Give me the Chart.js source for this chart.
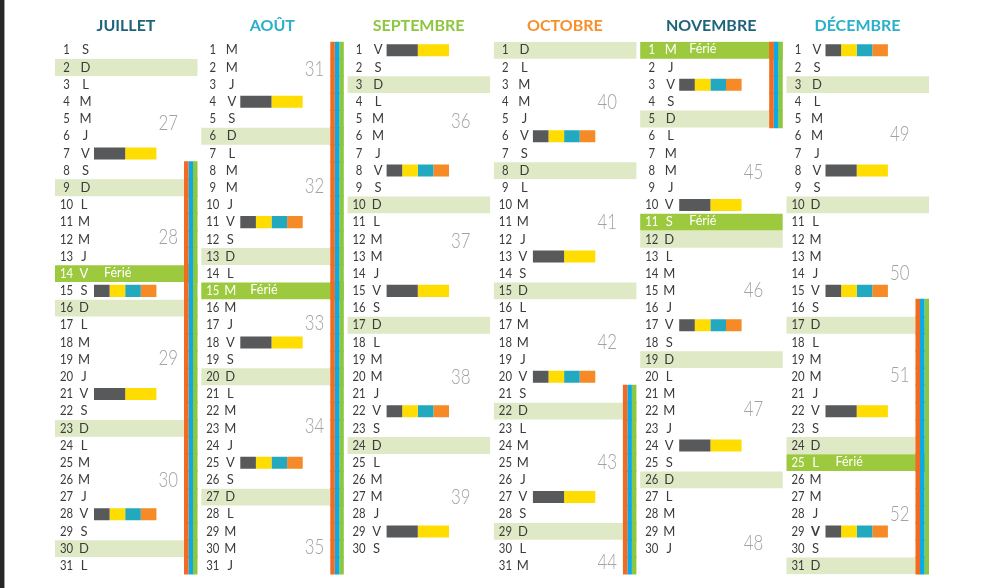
<!DOCTYPE html>
<html lang="fr">
<head>
    <meta charset="UTF-8">
    <title>Calendrier juillet - décembre</title>
    <script src="https://cdn.jsdelivr.net/npm/chart.js"></script>
    <style>
        body {
            margin: 0;
            background: #ffffff;
            font-family: Lato, sans-serif;
        }
        .page {
            position: relative;
            width: 992px;
            height: 588px;
            overflow: hidden;
        }
        .edge {
            position: absolute;
            left: 0;
            top: 0;
            width: 4px;
            height: 100%;
            background: #262626;
            border-right: 1px solid #a0a0a0;
        }
        .chart-container {
            position: absolute;
            left: 0;
            top: 0;
            width: 992px;
            height: 588px;
        }
    </style>
</head>
<body>
<div class="page">
    <div class="edge"></div>
    <div class="chart-container">
        <canvas id="calendar"></canvas>
    </div>
</div>

<script>
    // ---- data read from the calendar ----
    const months = ['JUILLET', 'AOÛT', 'SEPTEMBRE', 'OCTOBRE', 'NOVEMBRE', 'DÉCEMBRE'];
    const days = ['1', '2', '3', '4', '5', '6', '7', '8', '9', '10', '11', '12', '13', '14', '15', '16',
                  '17', '18', '19', '20', '21', '22', '23', '24', '25', '26', '27', '28', '29', '30', '31'];

    // day letters, one string per month
    const dayLetters = [
        'SDLMMJVSDLMMJVSDLMMJVSDLMMJVSDL',
        'MMJVSDLMMJVSDLMMJVSDLMMJVSDLMMJ',
        'VSDLMMJVSDLMMJVSDLMMJVSDLMMJVS',
        'DLMMJVSDLMMJVSDLMMJVSDLMMJVSDLM',
        'MJVSDLMMJVSDLMMJVSDLMMJVSDLMMJ',
        'VSDLMMJVSDLMMJVSDLMMJVSDLMMJVSD'
    ];

    const feries = [[14], [15], [], [], [1, 11], [25]];

    // grey + yellow bars
    const shortBars = [[7, 21], [4, 18], [1, 15, 29], [13, 27], [10, 24], [8, 22]];
    // grey + yellow + teal + orange bars
    const longBars = [[15, 28], [11, 25], [8, 22], [6, 20], [3, 17], [1, 15, 29]];

    // holiday periods [first day, last day]
    const vacances = [[8, 31], [1, 31], null, [21, 31], [1, 5], [16, 31]];

    const weekNumbers = [
        [27, 28, 29, 30],
        [31, 32, 33, 34, 35],
        [36, 37, 38, 39],
        [40, 41, 42, 43, 44],
        [45, 46, 47, 48],
        [49, 50, 51, 52]
    ];
    // day row where each week number sits
    const weekRows = [
        [5.25, 11.9, 18.9, 26],
        [2.1, 8.9, 16.9, 22.9, 29.9],
        [5.1, 12.1, 20, 27],
        [4, 11, 18, 25, 30.8],
        [8.1, 14.95, 21.9, 29.7],
        [5.9, 14, 19.9, 28]
    ];

    const boldDays = [[], [], [], [], [], [29]];

    // ---- styles ----
    const monthColors = ['#1d6478', '#2ab0c8', '#8dc63f', '#f7902a', '#1d6478', '#2ab0c8'];

    const U = 146.3;            // pixels per month column
    const COL_W = 142.5 / U;
    const px = v => v / U;
    const BAR_X = 39, SEG = 15.6;
    const STRIPE_X = 129, STRIPE_W = 4.5;

    // ---- build datasets ----
    const sundayData = [], ferieData = [];
    dayLetters.forEach((s, m) => {
        s.split('').forEach((l, i) => {
            if (l === 'D') sundayData.push({ y: days[i], x: [m, m + COL_W] });
        });
        feries[m].forEach(d => ferieData.push({ y: String(d), x: [m, m + COL_W] }));
    });

    const segGrey = [], segYellow = [], segTeal = [], segOrange = [];
    shortBars.forEach((list, m) => list.forEach(d => {
        segGrey.push({ y: String(d), x: [m + px(BAR_X), m + px(BAR_X + 2 * SEG)] });
        segYellow.push({ y: String(d), x: [m + px(BAR_X + 2 * SEG), m + px(BAR_X + 4 * SEG)] });
    }));
    longBars.forEach((list, m) => list.forEach(d => {
        [segGrey, segYellow, segTeal, segOrange].forEach((arr, k) => {
            arr.push({ y: String(d), x: [m + px(BAR_X + k * SEG), m + px(BAR_X + (k + 1) * SEG)] });
        });
    }));

    const stripeOrange = [], stripeBlue = [], stripeGreen = [];
    vacances.forEach((v, m) => {
        if (!v) return;
        for (let d = v[0]; d <= v[1]; d++) {
            [stripeOrange, stripeBlue, stripeGreen].forEach((arr, k) => {
                arr.push({ y: String(d), x: [m + px(STRIPE_X + k * STRIPE_W), m + px(STRIPE_X + (k + 1) * STRIPE_W)] });
            });
        }
    });

    function drawText(ctx, str, x, y, font, color, align, sx) {
        ctx.save();
        ctx.translate(x, y);
        ctx.scale(sx || 1, 1);
        ctx.font = font;
        ctx.fillStyle = color;
        ctx.textAlign = align;
        ctx.textBaseline = 'middle';
        ctx.fillText(str, 0, 0);
        ctx.restore();
    }

    const calendarText = {
        id: 'calendarText',
        afterDatasetsDraw(chart) {
            const { ctx, chartArea, scales: { x, y } } = chart;
            months.forEach((name, m) => {
                const x0 = x.getPixelForValue(m);
                drawText(ctx, name, x0 + 71, chartArea.top - 16, 'bold 16px Lato', monthColors[m], 'center');

                dayLetters[m].split('').forEach((l, i) => {
                    const d = i + 1;
                    const yy = y.getPixelForValue(i);
                    const ferie = feries[m].includes(d);
                    const color = ferie ? '#ffffff' : '#3b3b3b';
                    drawText(ctx, String(d), x0 + 11.5, yy, '13px Lato', color, 'center', 0.87);
                    const bold = boldDays[m].includes(d) ? 'bold ' : '';
                    drawText(ctx, l, x0 + (d < 10 ? 30.5 : 29), yy, bold + '13px Lato', color, 'center');
                    if (ferie) drawText(ctx, 'Férié', x0 + 49, yy - 1, '12.5px Lato', '#ffffff', 'left');
                });

                weekNumbers[m].forEach((w, k) => {
                    const yy = y.getPixelForValue(weekRows[m][k] - 1);
                    drawText(ctx, String(w), x0 + 123, yy, '300 21px Lato', '#a2a2a2', 'right', 0.8);
                });
            });
        }
    };

    function barSet(data, color, thickness) {
        return { data: data, backgroundColor: color, barPercentage: thickness, categoryPercentage: 1 };
    }

    new Chart(document.getElementById('calendar'), {
        type: 'bar',
        data: {
            labels: days,
            datasets: [
                barSet(stripeOrange, '#f26b21', 1.08),
                barSet(stripeBlue, '#0aa9e8', 1.08),
                barSet(stripeGreen, '#8dc63f', 1.08),
                barSet(segGrey, '#58595b', 0.7),
                barSet(segYellow, '#ffdd00', 0.7),
                barSet(segTeal, '#22a9c0', 0.7),
                barSet(segOrange, '#f58a27', 0.7),
                barSet(ferieData, '#9cc93e', 0.98),
                barSet(sundayData, '#dfe9c6', 0.98)
            ]
        },
        options: {
            indexAxis: 'y',
            responsive: true,
            maintainAspectRatio: false,
            animation: false,
            events: [],
            layout: {
                padding: { left: 55, right: 59.2, top: 41.7, bottom: 13.6 }
            },
            datasets: {
                bar: { grouped: false, borderWidth: 0, borderSkipped: false }
            },
            plugins: {
                legend: { display: false },
                tooltip: { enabled: false }
            },
            scales: {
                x: { type: 'linear', min: 0, max: 6, display: false },
                y: { display: false }
            }
        },
        plugins: [calendarText]
    });
</script>
</body>
</html>
